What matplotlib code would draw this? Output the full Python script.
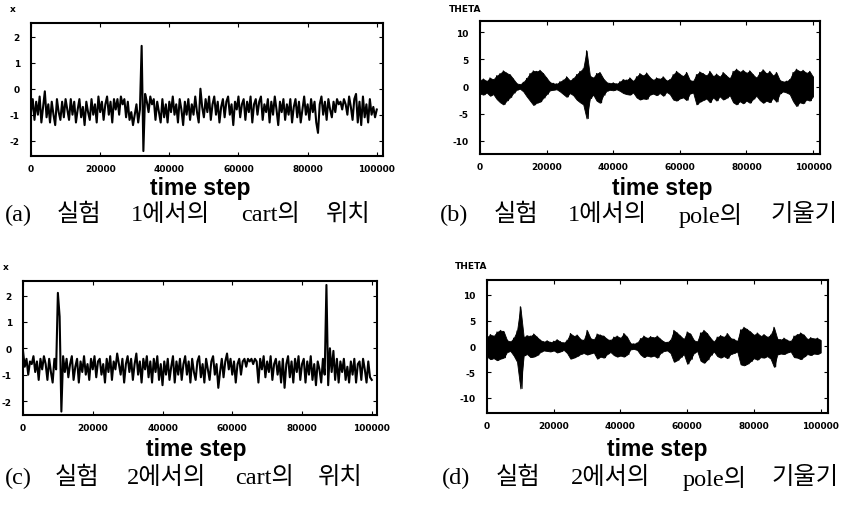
import numpy as np
import matplotlib.pyplot as plt

# cart position, sampled every 500 steps
t_cart = np.arange(0, 100001, 500)
cart1 = [
    -0.9, -0.4, -1.2, -0.5, -1.0, -0.3, -1.3, -0.7, -0.1, -1.1,
    -0.6, -1.3, -0.5, -1.0, -1.4, -0.4, -0.9, -1.2, -0.5, -1.1,
    -0.4, -0.8, -1.2, -0.4, -1.0, -0.5, -1.3, -0.8, -0.4, -1.1,
    -0.7, -1.4, -0.5, -0.9, -1.2, -0.4, -1.0, -0.6, -1.3, -0.3,
    -0.9, -0.5, -1.2, -0.6, -0.3, -1.0, -0.5, -1.3, -0.4, -0.8,
    -0.4, -1.0, -0.3, -0.6, -0.4, -1.1, -0.5, -1.2, -0.9, -1.4,
    -1.0, -0.6, -1.3, -0.8, 1.65, -2.4, -0.2, -0.5, -0.9, -0.3,
    -0.6, -0.4, -1.2, -0.5, -0.9, -1.3, -0.4, -1.1, -0.6, -1.3,
    -0.5, -0.9, -0.3, -1.0, -0.6, -1.3, -0.4, -0.8, -1.4, -0.5,
    -1.0, -0.4, -1.2, -0.6, -1.0, -0.3, -0.9, -1.3, 0.0, -0.7,
    -1.1, -0.4, -0.9, -0.3, -1.2, -0.6, -0.3, -1.0, -0.5, -1.3,
    -0.7, -0.4, -1.1, -0.5, -0.3, -1.0, -0.6, -1.4, -0.5, -0.8,
    -0.3, -1.1, -0.6, -0.4, -1.2, -0.5, -0.9, -0.3, -1.3, -0.6,
    -0.4, -1.0, -0.5, -0.3, -1.2, -0.6, -0.9, -0.4, -1.3, -0.5,
    -1.0, -0.3, -0.8, -1.4, -0.5, -0.9, -0.4, -1.2, -0.6, -1.0,
    -0.4, -1.3, -0.7, -0.4, -1.1, -0.5, -1.3, -0.8, -0.3, -1.0,
    -0.6, -1.2, -0.4, -0.9, -0.5, -1.3, -1.7, -0.6, -0.3, -1.0,
    -0.5, -1.2, -0.4, -0.8, -1.1, -0.5, -0.9, -0.4, -0.6, -0.5,
    -0.8, -0.4, -0.6, -1.0, -0.3, -0.7, -1.2, -0.4, -0.2, -1.3,
    -0.5, -1.4, -0.3, -1.1, -0.6, -1.3, -0.4, -1.0, -0.7, -1.1,
    -0.8,
]
cart2 = [
    -0.1, -0.7, -0.4, -1.0, -0.5, -0.6, -0.3, -0.9, -0.5, -1.2,
    -0.4, -0.8, -0.3, -0.6, -1.2, -0.4, -0.9, -1.3, -0.4, -0.8,
    2.1, 1.2, -2.4, -0.3, -0.9, -0.4, -1.1, -0.6, -0.3, -1.2,
    -0.7, -0.4, -1.3, -0.5, -0.9, -0.3, -1.0, -0.6, -1.2, -0.4,
    -0.8, -0.3, -1.1, -0.5, -0.4, -1.0, -0.6, -1.3, -0.4, -0.9,
    -0.3, -1.2, -0.5, -0.8, -0.2, -0.6, -1.0, -0.4, -1.3, -0.6,
    -0.3, -0.9, -0.4, -1.2, -0.6, -0.2, -1.0, -0.5, -1.3, -0.4,
    -0.8, -0.3, -1.1, -0.5, -1.3, -0.4, -0.9, -0.3, -1.2, -0.6,
    -1.4, -0.5, -1.0, -0.4, -1.2, -0.7, -0.3, -1.3, -0.5, -1.0,
    -0.4, -1.2, -0.6, -0.3, -1.0, -0.5, -1.3, -0.4, -0.9, -1.2,
    -0.5, -0.3, -1.1, -0.6, -1.3, -0.4, -0.8, -1.2, -0.5, -0.3,
    -1.0, -0.6, -1.5, -0.9, -0.4, -1.1, -0.5, -0.2, -0.8, -0.4,
    -1.0, -0.5, -1.3, -0.6, -0.4, -1.0, -0.5, -0.4, -0.7, -0.4,
    -0.5, -0.4, -0.6, -0.4, -0.5, -1.3, -0.4, -0.8, -0.3, -1.1,
    -0.5, -0.9, -0.3, -1.2, -0.6, -0.4, -1.0, -0.5, -1.3, -0.4,
    -1.5, -0.6, -0.3, -1.1, -0.5, -1.3, -0.4, -0.9, -0.3, -1.2,
    -0.6, -0.4, -1.3, -0.5, -1.0, -0.3, -1.2, -0.6, -1.4, -0.5,
    -0.8, -1.3, -0.4, -1.0, 2.4, -1.4, 0.0, -0.9, -0.1, -1.2,
    -0.4, -1.3, -0.5, -0.9, -0.4, -1.2, -0.7, -1.3, -0.5, -1.0,
    -0.4, -1.3, -0.6, -0.5, -1.2, -0.4, -0.8, -1.3, -0.5, -1.1,
    -1.2,
]

# pole angle swing: upper / lower peaks every 1000 steps
t_pole = np.arange(0, 100001, 1000)
pole1_hi = [
    1.2, 1.4, 1.0, 1.6, 1.3, 2.0, 2.4, 2.9, 2.5, 2.2,
    1.4, 0.6, 0.4, 0.8, 1.5, 2.4, 2.9, 2.8, 3.0, 2.4,
    1.6, 0.8, 0.6, 0.5, 0.9, 1.2, 1.8, 1.1, 1.5, 2.2,
    2.8, 3.3, 6.6, 2.0, 1.6, 2.4, 2.6, 1.5, 0.8, 0.6,
    0.7, 0.5, 0.9, 1.3, 1.2, 1.6, 1.0, 1.8, 2.4, 2.0,
    2.5, 1.7, 1.2, 1.6, 1.4, 1.8, 1.1, 1.3, 2.2, 2.8,
    2.3, 1.9, 2.6, 1.2, 1.0, 2.2, 2.7, 2.4, 2.0, 2.8,
    1.9, 2.3, 1.8, 2.6, 2.0, 1.5, 2.8, 3.2, 2.7, 3.0,
    2.5, 2.9, 2.2, 1.6, 2.6, 3.1, 2.4, 2.8, 2.0, 2.6,
    1.2, 0.9, 1.0, 1.3, 2.6, 3.2, 2.8, 3.0, 2.5, 2.8,
    1.8,
]
pole1_lo = [
    -1.3, -1.5, -1.1, -1.7, -1.4, -2.3, -2.9, -3.3, -2.6, -2.0,
    -1.2, -0.6, -0.4, -0.9, -1.8, -2.6, -3.4, -3.0, -2.8, -2.1,
    -1.4, -0.7, -0.6, -0.5, -0.9, -1.4, -1.9, -1.2, -1.6, -2.4,
    -2.9, -3.3, -5.9, -2.2, -1.5, -2.6, -3.0, -1.6, -0.8, -0.6,
    -0.7, -0.5, -0.8, -1.2, -1.4, -1.5, -1.1, -2.0, -2.4, -2.2,
    -2.3, -1.5, -1.3, -1.6, -1.2, -1.7, -1.0, -1.4, -2.4, -2.6,
    -2.2, -2.0, -2.5, -1.3, -1.1, -3.3, -2.8, -2.5, -2.2, -2.9,
    -2.0, -2.6, -1.8, -2.4, -2.1, -1.6, -2.9, -3.3, -2.7, -3.1,
    -2.6, -3.0, -2.3, -1.7, -2.5, -3.0, -2.6, -2.9, -2.1, -2.8,
    -1.3, -0.9, -1.1, -1.4, -2.7, -3.6, -2.9, -3.1, -2.4, -2.6,
    -1.8,
]
pole2_hi = [
    1.8, 2.3, 2.0, 2.8, 3.1, 2.9, 1.2, 0.9, 1.6, 3.0,
    7.7, 1.8, 2.1, 2.0, 2.4, 1.8, 1.2, 0.9, 1.1, 0.8,
    1.0, 1.3, 0.9, 0.7, 1.2, 2.5, 2.0, 2.2, 1.4, 1.2,
    3.1, 1.6, 1.3, 2.4, 2.2, 2.0, 1.4, 1.2, 1.8, 2.0,
    1.6, 2.5, 1.8, 0.6, 0.5, 0.7, 1.5, 2.0, 1.6, 1.9,
    1.7, 2.0, 1.4, 0.9, 0.8, 1.2, 3.1, 2.6, 2.0, 1.4,
    2.8, 2.4, 1.2, 0.9, 2.6, 3.1, 2.5, 1.6, 0.9, 1.8,
    2.1, 1.8, 2.5, 1.6, 1.4, 1.0, 3.2, 3.7, 3.3, 2.8,
    2.2, 2.6, 2.0, 2.3, 1.8, 2.2, 3.7, 1.5, 1.3, 1.6,
    1.2, 1.0, 2.0, 2.3, 2.6, 2.2, 1.4, 1.7, 1.5, 1.6,
    1.2,
]
pole2_lo = [
    -2.0, -2.5, -2.3, -2.7, -2.4, -2.2, -1.1, -0.9, -1.8, -3.0,
    -8.2, -1.8, -1.5, -2.1, -2.0, -1.7, -1.1, -0.8, -0.9, -1.0,
    -0.8, -1.2, -1.0, -0.7, -1.3, -2.4, -2.2, -1.9, -1.5, -1.3,
    -1.6, -1.4, -1.2, -2.4, -2.0, -2.2, -1.5, -1.1, -1.7, -2.0,
    -1.8, -2.0, -1.6, -0.6, -0.5, -0.7, -1.6, -2.1, -1.8, -2.0,
    -1.8, -2.2, -1.3, -0.9, -0.8, -1.3, -3.0, -2.7, -2.1, -1.5,
    -3.4, -2.5, -1.3, -0.9, -2.8, -3.2, -2.6, -1.7, -1.0, -1.9,
    -2.2, -1.9, -2.3, -1.5, -1.3, -1.0, -3.5, -3.7, -3.4, -2.9,
    -2.3, -2.6, -2.1, -2.2, -1.9, -2.4, -4.0, -1.6, -1.4, -1.5,
    -1.2, -1.0, -2.1, -2.2, -2.5, -2.0, -1.5, -1.7, -1.4, -1.5,
    -1.2,
]

x_ticks = [0, 20000, 40000, 60000, 80000, 100000]
captions = ["(a) 실험 1에서의 cart의 위치", "(b) 실험 1에서의 pole의 기울기",
            "(c) 실험 2에서의 cart의 위치", "(d) 실험 2에서의 pole의 기울기"]

W, H = 848, 506
fig = plt.figure(figsize=(W / 100, H / 100), dpi=100)


def px_axes(x0, y0, x1, y1):
    return fig.add_axes([x0 / W, 1 - y1 / H, (x1 - x0) / W, (y1 - y0) / H])


def draw_pole(ax, hi, lo):
    # dense swing drawn as the band between upper and lower peaks
    ax.fill_between(t_pole, lo, hi, color='black', lw=0.6)
    tt = np.column_stack([t_pole, np.minimum(t_pole + 500, 100000)]).ravel()
    vv = np.column_stack([hi, lo]).ravel()
    ax.plot(tt, vv, color='black', lw=0.8)


def style(ax, xmax, ylim, yticks):
    ax.set_xlim(0, xmax)
    ax.set_ylim(*ylim)
    ax.set_xticks(x_ticks)
    ax.set_xticklabels([str(v) for v in x_ticks])
    ax.set_yticks(yticks)
    ax.set_yticklabels([str(v) for v in yticks])
    ax.tick_params(direction='in', length=3, width=0.8, top=True, right=True,
                   labelsize=6.5, pad=6)
    ax.tick_params(axis='y', pad=8)
    for lab in ax.get_xticklabels() + ax.get_yticklabels():
        lab.set_fontweight('bold')
    for s in ax.spines.values():
        s.set_linewidth(1.5)


ax_a = px_axes(31, 24, 383, 157)
ax_a.plot(t_cart, cart1, color='black', lw=1.5)
style(ax_a, 101800, (-2.59, 2.53), [-2, -1, 0, 1, 2])

ax_b = px_axes(480, 22, 820, 155)
draw_pole(ax_b, pole1_hi, pole1_lo)
style(ax_b, 102100, (-12.45, 12.1), [-10, -5, 0, 5, 10])

ax_c = px_axes(23, 282, 377, 416)
ax_c.plot(t_cart, cart2, color='black', lw=1.5)
style(ax_c, 101500, (-2.53, 2.55), [-2, -1, 0, 1, 2])

ax_d = px_axes(487, 281, 828, 414)
draw_pole(ax_d, pole2_hi, pole2_lo)
style(ax_d, 102200, (-12.96, 12.9), [-10, -5, 0, 5, 10])


def ftext(x, y, s, **kw):
    fig.text(x / W, 1 - y / H, s, **kw)


small = dict(fontsize=6.5, fontweight='bold', ha='center', va='center')
ftext(13, 10, "x", **small)
ftext(465, 9, "THETA", **small)
ftext(6, 268, "x", **small)
ftext(471, 267, "THETA", **small)

lab = dict(fontsize=16.5, fontweight='bold', family='Liberation Sans',
           ha='center', va='center')
ftext(200, 189, "time step", **lab)
ftext(662, 189, "time step", **lab)
ftext(196, 450, "time step", **lab)
ftext(657, 450, "time step", **lab)

# captions are set word by word (wide letter spacing in the source)
cap = dict(fontsize=17.5, family=['Liberation Serif', 'Noto Sans CJK KR'],
           ha='left', va='center')
cap_words_x = [
    (215, [5, 57, 131, 241, 326]),
    (215, [440, 494, 568, 679, 771]),
    (478, [5, 55, 127, 235, 318]),
    (478, [442, 496, 571, 683, 772]),
]
for text, (y0, xs) in zip(captions, cap_words_x):
    for word, xw in zip(text.split(' '), xs):
        ftext(xw, y0, word, **cap)

fig.savefig("out.png", dpi=100)
